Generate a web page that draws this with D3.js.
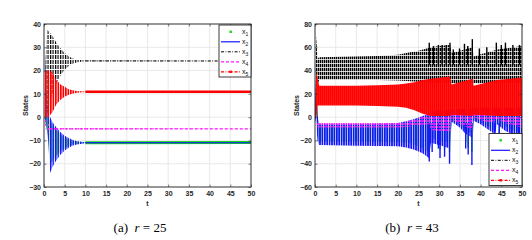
<!DOCTYPE html>
<html>
<head>
<meta charset="utf-8">
<script src="https://cdn.jsdelivr.net/npm/d3@7"></script>
<style>
  body { margin: 0; background: #fff; }
  svg { display: block; }
</style>
</head>
<body>
<div id="chart"></div>
<script>
// ---- data ----
const seriesKeys = ["x1", "x2", "x3", "x4", "x5"];
const tTicks = [0, 5, 10, 15, 20, 25, 30, 35, 40, 45, 50];
const yTicksA = [-30, -20, -10, 0, 10, 20, 30, 40];
const yTicksB = [-60, -40, -20, 0, 20, 40, 60, 80];
const captionsAB = [["(a)", "25"], ["(b)", "43"]];

// panel (a) r = 25 : oscillation envelopes [t, min, max]
const a_x1 = [[0,0,0],[0.4,-3,1],[1,-8,0],[1.5,-20,-2],[2,-19,-3],[3,-16.5,-5.5],[4,-14.5,-7.5],[5,-13.3,-8.7],[6,-12.4,-9.6],[7,-11.8,-10.2],[8,-11.4,-10.5],[10,-11.1,-10.8],[50,-10.9,-10.9]];
const a_x2 = [[0,0,0],[0.25,0,27],[0.5,-3,12],[1,-10,2],[1.5,-24,0],[2,-21.5,-2],[3,-18.5,-4.5],[4,-16,-6.5],[5,-14.3,-8],[6,-13.1,-9],[7,-12.2,-9.8],[8,-11.7,-10.3],[10,-11.2,-10.8],[50,-11,-11]];
const a_x3 = [[0,0,0],[0.5,0,30],[0.8,2,37.5],[1.5,6,36],[2,10,35],[3,14.5,32],[4,18,29.5],[5,20.5,27.5],[6,22,26],[7,23,25.2],[8,23.6,24.7],[10,24,24.3],[50,24.1,24.1]];
const a_x4 = [[0,0,0],[0.7,-8,0],[1.4,-5.3,-4.7],[50,-5,-5]];
const a_x5 = [[0,0,2],[0.3,0,20],[1,0,20],[2,2,19.5],[3,5.5,16],[4,7.5,14],[5,8.8,13],[6,9.6,12],[7,10.1,11.6],[8,10.5,11.2],[10,10.8,11],[50,10.9,10.9]];

// panel (b) r = 43
const b_x1 = [[0,0,0],[0.4,-8,20],[0.8,-20,-6],[1,-21,-8],[10,-21,-8],[20,-21.5,-7],[23,-22.5,-5],[25,-25,-2],[27.5,-30,2],[28,-18,4],[30,-20,5],[32.6,-22,5],[33,-2,6],[36.3,-11,6],[38.1,-14,6],[38.3,-1,6],[42,-8,6],[43.5,-12,5],[44,-4,6],[47,-10,6],[50,-14,6]];
const b_x2 = [[0,0,0],[0.3,-5,42],[0.6,-20,2],[1,-24,-6],[10,-24.5,-6],[20,-25,-5],[22,-26,-3.5],[24,-28,-1.5],[26,-31,1],[27.5,-35,3],[28,-22,5],[30,-24,6],[32.6,-27,6],[33,-4,7],[35,-9,7],[36.3,-14,7],[38.1,-18,7],[38.3,-3,8],[40,-6,8],[42,-11,8],[43.5,-15,8],[44,-6,8],[46,-12,8],[48,-15,8],[50,-18,8]];
const b_x3 = [[0,0,0],[0.3,0,70],[0.6,28,50],[1,32,51.5],[10,32,52],[15,31.8,52.5],[20,31.5,53.5],[22,31,55],[25,30.5,57],[27,30,59],[28,29,60],[30,29,61],[32.6,29,62],[33,29,55],[35,29,57],[38.1,29,60],[38.3,29,52],[40,29,54],[42,29,56],[44,29,58],[46,29,59],[48,29,60],[50,29,61]];
const b_x4 = [[0,0,0],[0.6,-9,-5],[1,-9,-5],[20,-9,-5],[22,-8.5,-4],[25,-7,-1],[27.5,-6,2],[28,-11,5],[32.6,-13,6],[33,-2,6],[36.3,-8,6],[38.1,-11,7],[38.3,0,8],[42,-5,7],[44,-2,7],[47,-6,7],[50,-9,7]];
const b_x5 = [[0,0,0],[0.3,0,39],[0.6,10,34],[1,10,27],[10,10,27],[15,9.5,27.5],[20,9,28],[22,8,29],[24,6,30],[26,3,32],[28,1,33],[32.6,1,35],[33,2,28],[38.1,1,33],[38.3,2,27],[44,1,32],[50,1,34]];

// single excursions in (b): [t, extreme value]
const b_x1Dips = [[27.6,-30],[29.8,-24],[30.2,-28],[31.3,-27],[32.5,-30],[36.4,-22],[37.0,-26],[37.9,-30],[44.5,-20],[49.2,-20]];
const b_x2Dips = [[27.6,-38],[28.3,-30],[29.8,-27],[30.2,-35],[31.3,-34],[32.5,-40],[36.4,-27],[37.0,-32],[37.9,-41],[43.4,-20],[44.5,-26],[47.4,-22],[49.2,-25]];
const b_x3Peaks = [[27.6,64],[28.6,61],[29.8,62],[30.7,62],[31.7,62],[32.6,64],[33.4,58],[34.9,59],[36.1,63],[36.9,61],[38,67],[39.7,59],[41.5,60],[43.8,64],[45,62],[46,64],[47.8,62],[49.4,62]];

// ---- styles ----
const colors = { x1: "#19d419", x2: "#1414ff", x3: "#000000", x4: "#ff14ff", x5: "#ff0000" };
const lineStyle = {
  x1: { w: 3,   dash: null },
  x2: { w: 1.2, dash: null },
  x3: { w: 1,   dash: "3,1.5,0.8,1.5" },
  x4: { w: 1.2, dash: "3,2" },
  x5: { w: 2.6, dash: null }
};
const sans = "'Liberation Sans', Arial, sans-serif";

const svg = d3.select("#chart").append("svg")
  .attr("width", 532).attr("height", 240);
const defs = svg.append("defs");

function stripe(id, color, pw, sw, ph, sh) {
  const p = defs.append("pattern").attr("id", id)
    .attr("patternUnits", "userSpaceOnUse")
    .attr("width", pw).attr("height", ph);
  p.append("rect").attr("width", sw).attr("height", sh).attr("fill", color);
}
// vertical stripes standing in for the dense oscillation
stripe("pa-x1", colors.x1, 2.5, 1.8, 4, 4);
stripe("pa-x2", colors.x2, 2.5, 1.5, 4, 4);
stripe("pa-x3", colors.x3, 2.5, 1.2, 5, 4);
stripe("pa-x4", colors.x4, 3, 1.2, 4, 2);
stripe("pa-x5", colors.x5, 2.5, 1.7, 4, 4);
stripe("pb-x1", colors.x1, 2.4, 1.6, 4, 4);
stripe("pb-x2", colors.x2, 2.4, 1.7, 4, 4);
stripe("pb-x3", colors.x3, 2, 1.4, 4, 3.2);
stripe("pb-x4", colors.x4, 2.4, 1.5, 3, 2);
stripe("pb-x5", colors.x5, 2, 1.9, 4, 4);

function drawPanel(o) {
  const x = d3.scaleLinear().domain([0, 50]).range([o.left, o.right]);
  const y = d3.scaleLinear().domain(o.yDomain).range([o.bottom, o.top]);

  defs.append("clipPath").attr("id", "clip-" + o.id)
    .append("rect").attr("x", o.left).attr("y", o.top)
    .attr("width", o.right - o.left).attr("height", o.bottom - o.top);

  const g = svg.append("g");

  // grid
  g.append("g").selectAll("line").data(tTicks).join("line")
    .attr("x1", d => x(d)).attr("x2", d => x(d))
    .attr("y1", o.top).attr("y2", o.bottom)
    .attr("stroke", "#e3e3e3").attr("stroke-width", 0.8);
  g.append("g").selectAll("line").data(o.yTicks).join("line")
    .attr("x1", o.left).attr("x2", o.right)
    .attr("y1", d => y(d)).attr("y2", d => y(d))
    .attr("stroke", "#e3e3e3").attr("stroke-width", 0.8);

  const plot = g.append("g").attr("clip-path", `url(#clip-${o.id})`);
  const area = d3.area().x(d => x(d[0])).y0(d => y(d[1])).y1(d => y(d[2]));
  const mid = d3.line().defined(d => d[2] - d[1] <= 0.6)
    .x(d => x(d[0])).y(d => y((d[1] + d[2]) / 2));

  seriesKeys.forEach(k => {
    plot.append("path").datum(o.env[k]).attr("d", area)
      .attr("fill", `url(#p${o.id}-${k})`);
    plot.append("path").datum(o.env[k]).attr("d", mid)
      .attr("fill", "none").attr("stroke", colors[k])
      .attr("stroke-width", lineStyle[k].w)
      .attr("stroke-dasharray", lineStyle[k].dash);
    (o.spikes[k] || []).forEach(s => {
      plot.append("g").selectAll("line").data(s.data).join("line")
        .attr("x1", d => x(d[0])).attr("x2", d => x(d[0]))
        .attr("y1", y(s.from)).attr("y2", d => y(d[1]))
        .attr("stroke", colors[k]).attr("stroke-width", 1.4);
    });
  });

  // axes with inward ticks
  const axFont = ax => {
    ax.select(".domain").remove();
    ax.selectAll(".tick line").attr("stroke", "#262626").attr("stroke-width", 0.6);
    ax.selectAll("text").attr("font-family", sans).attr("font-size", 7)
      .attr("font-weight", "bold").attr("fill", "#262626");
  };
  g.append("g").attr("transform", `translate(0,${o.bottom})`)
    .call(d3.axisBottom(x).tickValues(tTicks).tickSize(-2.5).tickPadding(4).tickFormat(d3.format("d")))
    .call(axFont);
  g.append("g").attr("transform", `translate(0,${o.top})`)
    .call(d3.axisTop(x).tickValues(tTicks).tickSize(-2.5).tickFormat(""))
    .call(axFont);
  g.append("g").attr("transform", `translate(${o.left},0)`)
    .call(d3.axisLeft(y).tickValues(o.yTicks).tickSize(-2.5).tickPadding(3).tickFormat(d3.format("d")))
    .call(axFont);
  g.append("g").attr("transform", `translate(${o.right},0)`)
    .call(d3.axisRight(y).tickValues(o.yTicks).tickSize(-2.5).tickFormat(""))
    .call(axFont);

  g.append("rect").attr("x", o.left).attr("y", o.top)
    .attr("width", o.right - o.left).attr("height", o.bottom - o.top)
    .attr("fill", "none").attr("stroke", "#262626").attr("stroke-width", 0.9);

  // axis titles
  g.append("text").attr("x", (o.left + o.right) / 2).attr("y", 206)
    .attr("text-anchor", "middle").attr("font-family", sans)
    .attr("font-size", 7).attr("font-weight", "bold").attr("fill", "#262626").text("t");
  g.append("text")
    .attr("transform", `translate(${o.left - 16},${(o.top + o.bottom) / 2}) rotate(-90)`)
    .attr("text-anchor", "middle").attr("font-family", sans)
    .attr("font-size", 7).attr("font-weight", "bold").attr("fill", "#262626").text("States");

  // legend
  const lg = g.append("g").attr("transform", `translate(${o.legend[0]},${o.legend[1]})`);
  lg.append("rect").attr("width", o.right - o.legend[0]).attr("height", 52)
    .attr("fill", "#fff").attr("stroke", "#262626").attr("stroke-width", 0.9);
  seriesKeys.forEach((k, i) => {
    const yy = 6.8 + i * 10;
    if (k !== "x1") {
      lg.append("line").attr("x1", 2).attr("x2", 21).attr("y1", yy).attr("y2", yy)
        .attr("stroke", colors[k]).attr("stroke-width", k === "x5" ? 1.2 : lineStyle[k].w)
        .attr("stroke-dasharray", k === "x5" ? "3,1.5,0.8,1.5" : lineStyle[k].dash);
    }
    if (k === "x1" || k === "x5") {
      lg.append("rect").attr("x", 10.5).attr("y", yy - 1.2).attr("width", 2.4).attr("height", 2.4)
        .attr("fill", colors[k]);
    }
    const t = lg.append("text").attr("x", 23).attr("y", yy + 2)
      .attr("font-family", sans).attr("font-size", 7).attr("fill", "#111");
    t.append("tspan").text("x");
    t.append("tspan").attr("font-size", 5).attr("dy", 1.8).text(k.slice(1));
  });

  // caption
  const cap = svg.append("text").attr("x", o.capX).attr("y", 232)
    .attr("text-anchor", "middle").attr("font-family", "'Liberation Serif', 'Times New Roman', serif")
    .attr("font-size", 13).attr("fill", "#000");
  cap.append("tspan").text(o.caption[0] + "\u2002");
  cap.append("tspan").attr("font-style", "italic").text("r");
  cap.append("tspan").text(" = " + o.caption[1]);
}

drawPanel({
  id: "a", left: 44, right: 251, top: 24, bottom: 187,
  yDomain: [-30, 40], yTicks: yTicksA,
  env: { x1: a_x1, x2: a_x2, x3: a_x3, x4: a_x4, x5: a_x5 },
  spikes: {},
  legend: [219, 25], capX: 140, caption: captionsAB[0]
});
drawPanel({
  id: "b", left: 315, right: 522, top: 24, bottom: 187,
  yDomain: [-60, 80], yTicks: yTicksB,
  env: { x1: b_x1, x2: b_x2, x3: b_x3, x4: b_x4, x5: b_x5 },
  spikes: {
    x1: [{ from: -5, data: b_x1Dips }],
    x2: [{ from: -5, data: b_x2Dips }],
    x3: [{ from: 45, data: b_x3Peaks }]
  },
  legend: [489, 133.5], capX: 412, caption: captionsAB[1]
});
</script>
</body>
</html>
